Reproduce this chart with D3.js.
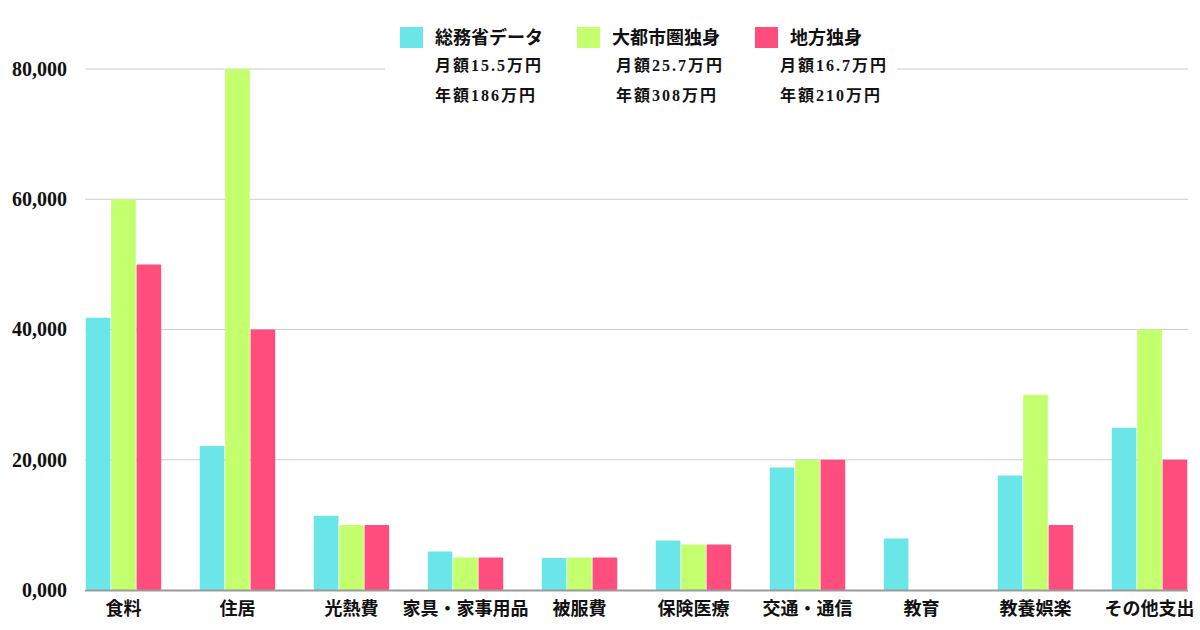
<!DOCTYPE html>
<html>
<head>
<meta charset="utf-8">
<script src="https://cdn.jsdelivr.net/npm/d3@7"></script>
<style>
	body { margin: 0; background: #fff; }
	svg text { font-family: "Liberation Serif", "Noto Sans CJK JP", serif; }
</style>
</head>
<body>
<div id="chart"></div>
<script>
const categories = ["食料", "住居", "光熱費", "家具・家事用品", "被服費", "保険医療", "交通・通信", "教育", "教養娯楽", "その他支出"];
const seriesNames = ["総務省データ", "大都市圏独身", "地方独身"];
const monthly = ["月額15.5万円", "月額25.7万円", "月額16.7万円"];
const yearly = ["年額186万円", "年額308万円", "年額210万円"];
const soumu = [41800, 22100, 11400, 5900, 4900, 7600, 18800, 7900, 17600, 24900];
const toshi = [60000, 80000, 10000, 5000, 5000, 7000, 20000, 0, 30000, 40000];
const chihou = [50000, 40000, 10000, 5000, 5000, 7000, 20000, 0, 10000, 20000];
const yTicks = [0, 20000, 40000, 60000, 80000];
const colors = ["#6ae6e9", "#c4ff6e", "#ff4e7e"];

const width = 1200, height = 630;
const margin = { top: 69, right: 12, bottom: 40, left: 85 };

const svg = d3.select("#chart")
	.append("svg")
	.attr("width", width)
	.attr("height", height);

const x0 = d3.scaleBand()
	.domain(categories)
	.range([margin.left, width - margin.right])
	.paddingInner(0.325)
	.paddingOuter(0);

const x1 = d3.scaleBand()
	.domain(seriesNames)
	.range([0, x0.bandwidth()])
	.padding(0.03);

const y = d3.scaleLinear()
	.domain([0, 80000])
	.range([height - margin.bottom, margin.top]);

// grid lines
svg.append("g")
	.selectAll("line")
	.data(yTicks.slice(1))
	.join("line")
	.attr("x1", margin.left)
	.attr("x2", width - margin.right)
	.attr("y1", d => y(d))
	.attr("y2", d => y(d))
	.attr("stroke", "#cccccc")
	.attr("stroke-width", 1);

// y axis labels
svg.append("g")
	.attr("transform", `translate(${margin.left},0)`)
	.call(d3.axisLeft(y).tickValues(yTicks).tickSize(0).tickPadding(18)
		.tickFormat(d => d === 0 ? "0,000" : d3.format(",")(d)))
	.call(g => g.select(".domain").remove())
	.selectAll("text")
	.style("font-size", "20px")
	.style("font-weight", "bold")
	.style("font-family", "'Liberation Serif', serif")
	.attr("fill", "#111");

// bars
const rows = categories.map((c, i) => ({ cat: c, vals: [soumu[i], toshi[i], chihou[i]] }));

svg.append("g")
	.selectAll("g")
	.data(rows)
	.join("g")
	.attr("transform", d => `translate(${x0(d.cat)},0)`)
	.selectAll("rect")
	.data(d => d.vals.map((v, j) => ({ key: seriesNames[j], v: v, j: j })))
	.join("rect")
	.attr("x", d => x1(d.key))
	.attr("y", d => y(d.v))
	.attr("width", x1.bandwidth())
	.attr("height", d => y(0) - y(d.v))
	.attr("rx", 1)
	.attr("fill", d => colors[d.j]);

// baseline
svg.append("line")
	.attr("x1", margin.left)
	.attr("x2", width - margin.right)
	.attr("y1", y(0) + 0.5)
	.attr("y2", y(0) + 0.5)
	.attr("stroke", "#9a9a9a")
	.attr("stroke-width", 2);

// x axis labels
svg.append("g")
	.attr("transform", `translate(0,${y(0)})`)
	.call(d3.axisBottom(x0).tickSize(0).tickPadding(12))
	.call(g => g.select(".domain").remove())
	.selectAll("text")
	.style("font-size", "18px")
	.style("font-weight", "bold")
	.style("font-family", "'Noto Sans CJK JP', sans-serif")
	.attr("fill", "#111");

// legend
svg.append("rect")
	.attr("x", 385)
	.attr("y", 18)
	.attr("width", 512)
	.attr("height", 95)
	.attr("fill", "#fff");

const legendX = [400, 577, 755];
const textX = [435, 612, 790];
const subX = [435, 616, 780];

const legend = svg.append("g")
	.selectAll("g")
	.data(seriesNames)
	.join("g");

legend.append("rect")
	.attr("x", (d, i) => legendX[i])
	.attr("y", 27)
	.attr("width", 23)
	.attr("height", 21)
	.attr("fill", (d, i) => colors[i]);

legend.append("text")
	.attr("x", (d, i) => textX[i])
	.attr("y", 38)
	.attr("dy", "0.35em")
	.style("font-size", "18px")
	.style("font-weight", "bold")
	.style("font-family", "'Noto Sans CJK JP', sans-serif")
	.attr("fill", "#111")
	.text(d => d);

legend.append("text")
	.attr("x", (d, i) => subX[i])
	.attr("y", 65)
	.attr("dy", "0.35em")
	.style("font-size", "16px")
	.style("font-weight", "bold")
	.style("letter-spacing", "2px")
	.attr("fill", "#111")
	.text((d, i) => monthly[i]);

legend.append("text")
	.attr("x", (d, i) => subX[i])
	.attr("y", 95)
	.attr("dy", "0.35em")
	.style("font-size", "16px")
	.style("font-weight", "bold")
	.style("letter-spacing", "2px")
	.attr("fill", "#111")
	.text((d, i) => yearly[i]);
</script>
</body>
</html>
